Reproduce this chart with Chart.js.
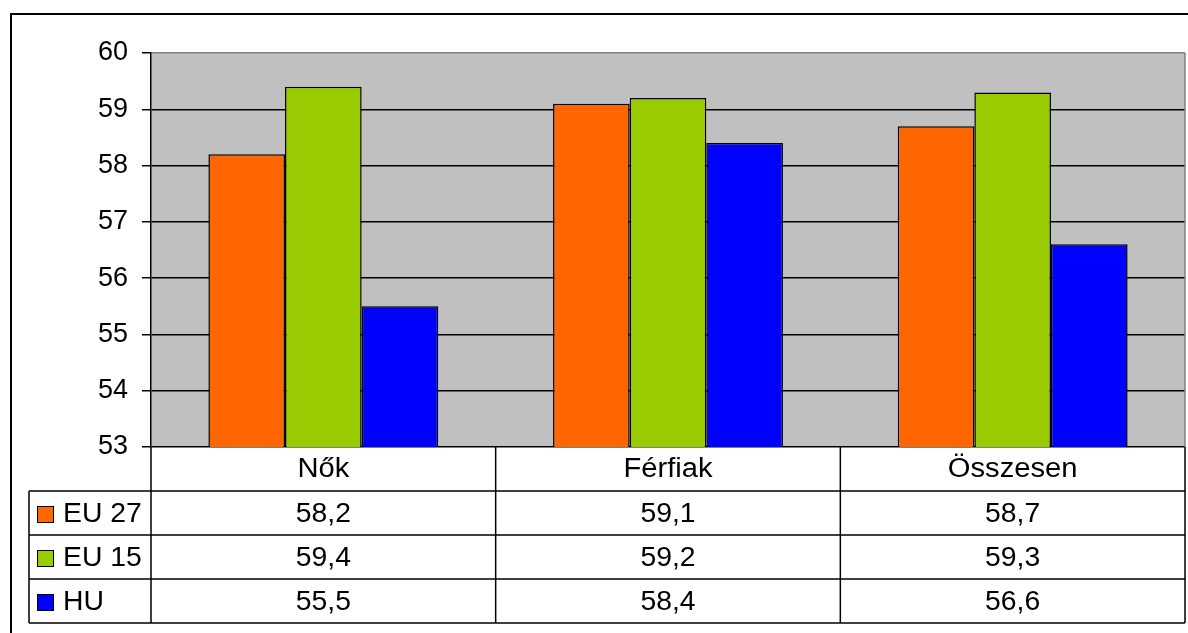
<!DOCTYPE html>
<html>
<head>
<meta charset="utf-8">
<script src="https://cdn.jsdelivr.net/npm/chart.js@4"></script>
<style>
  body { margin: 0; background: #fff; }
  #wrap { width: 1188px; height: 633px; }
</style>
</head>
<body>
<div id="wrap"><canvas id="chart" width="1188" height="633"></canvas></div>
<script>
const categories = ["Nők", "Férfiak", "Összesen"];
const seriesNames = ["EU 27", "EU 15", "HU"];
const eu27 = [58.2, 59.1, 58.7];
const eu15 = [59.4, 59.2, 59.3];
const hu = [55.5, 58.4, 56.6];
const yMin = 53, yMax = 60;

const colors = ["#ff6600", "#99cc00", "#0000ff"];
const FONT = "'Liberation Sans', Arial, sans-serif";
const rows = [eu27, eu15, hu];

const fmt = v => v.toFixed(1).replace(".", ",");

// text slightly wider than plain Arial, like the original
function wideText(ctx, txt, x, y, sx) {
  ctx.save();
  ctx.translate(x, y);
  ctx.scale(sx, 1);
  ctx.fillText(txt, 0, 0);
  ctx.restore();
}

const tablePlugin = {
  id: "tablePlugin",
  beforeDraw(chart) {
    const { ctx, chartArea: a } = chart;
    ctx.save();
    ctx.fillStyle = "#c0c0c0";
    ctx.fillRect(a.left, a.top, a.right - a.left, a.bottom - a.top);
    ctx.restore();
  },
  afterDraw(chart) {
    const { ctx, chartArea: a } = chart;
    const x = chart.scales.x;
    const colW = (a.right - a.left) / categories.length;
    const rowH = 44;
    const top = a.bottom;
    const legLeft = 29;

    ctx.save();
    // plot border (right side)
    ctx.strokeStyle = "#808080";
    ctx.lineWidth = 1.5;
    ctx.beginPath();
    ctx.moveTo(a.right, a.top);
    ctx.lineTo(a.right, a.bottom);
    ctx.stroke();

    // table grid
    ctx.strokeStyle = "#000";
    ctx.lineWidth = 1.5;
    const bottom = top + rowH * 4;
    ctx.beginPath();
    for (let r = 1; r <= 4; r++) {
      const y = top + rowH * r;
      ctx.moveTo(legLeft, y);
      ctx.lineTo(a.right, y);
    }
    for (let c = 0; c <= categories.length; c++) {
      const xx = a.left + colW * c;
      ctx.moveTo(xx, top);
      ctx.lineTo(xx, bottom);
    }
    ctx.moveTo(legLeft, top + rowH);
    ctx.lineTo(legLeft, bottom);
    ctx.stroke();

    ctx.fillStyle = "#000";
    ctx.font = "27px " + FONT;
    ctx.textAlign = "center";
    ctx.textBaseline = "middle";
    categories.forEach((c, i) => {
      const cx = x.getPixelForValue(i);
      wideText(ctx, c, cx, top + rowH / 2 + 1, 1.08);
      rows.forEach((vals, r) => {
        wideText(ctx, fmt(vals[i]), cx, top + rowH * (r + 1) + rowH / 2 + 2, 1.05);
      });
    });

    // legend keys
    ctx.textAlign = "left";
    seriesNames.forEach((n, r) => {
      const cy = top + rowH * (r + 1) + rowH / 2 + 1;
      ctx.fillStyle = colors[r];
      ctx.fillRect(37, cy - 8, 16, 16);
      ctx.lineWidth = 1;
      ctx.strokeStyle = "#000";
      ctx.strokeRect(37.5, cy - 7.5, 16, 16);
      ctx.fillStyle = "#000";
      wideText(ctx, n, 63, cy + 1, 1.05);
    });

    // outer frame
    ctx.strokeStyle = "#000";
    ctx.lineWidth = 2;
    ctx.beginPath();
    ctx.moveTo(11, 640);
    ctx.lineTo(11, 14);
    ctx.lineTo(1200, 14);
    ctx.stroke();
    ctx.restore();
  }
};

new Chart(document.getElementById("chart"), {
  type: "bar",
  data: {
    labels: categories,
    datasets: seriesNames.map((n, i) => ({
      label: n,
      data: rows[i],
      backgroundColor: colors[i],
      borderColor: "#000",
      borderWidth: 1.5,
      borderSkipped: false,
      categoryPercentage: 0.667,
      barPercentage: 1.0
    }))
  },
  options: {
    responsive: false,
    animation: false,
    layout: { padding: { left: 0, top: 53, right: 3, bottom: 186 } },
    plugins: { legend: { display: false }, tooltip: { enabled: false } },
    scales: {
      x: { display: false },
      y: {
        min: yMin,
        max: yMax,
        afterFit: s => { s.width = 151; },
        ticks: { stepSize: 1, color: "#000", padding: 14, font: { family: FONT, size: 27 } },
        grid: {
          color: c => (c.tick && c.tick.value === yMax ? "#808080" : "#000"),
          tickColor: "#000",
          lineWidth: 1.5,
          tickLength: 9
        },
        border: { color: "#000", width: 1.5 }
      }
    }
  },
  plugins: [tablePlugin]
});
</script>
</body>
</html>
